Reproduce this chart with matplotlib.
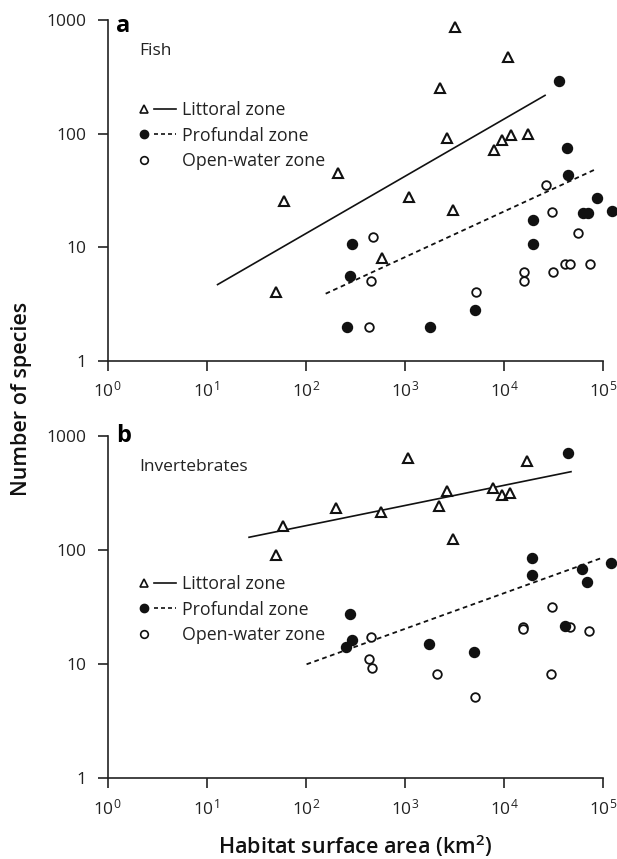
import numpy as np
import matplotlib
matplotlib.use('Agg')
import matplotlib.pyplot as plt
from matplotlib.lines import Line2D
from matplotlib.legend_handler import HandlerTuple

plt.rcParams['font.family'] = ['Open Sans', 'DejaVu Sans']
plt.rcParams['mathtext.fontset'] = 'custom'
plt.rcParams['mathtext.rm'] = 'Open Sans'
plt.rcParams['mathtext.it'] = 'Open Sans:italic'
plt.rcParams['mathtext.bf'] = 'Open Sans:bold'

# Panel a - fish
fish_lit_x = [50, 60, 210, 593, 1110, 2265, 2683, 3085, 3210, 7940, 9640, 11070, 11700, 17600]
fish_lit_y = [4.0, 25.5, 45, 8.1, 27.5, 250, 92, 21.3, 860, 71, 88, 470, 98, 100]
fish_pro_x = [263, 280, 291, 1800, 5110, 19500, 19500, 36200, 43000, 44700, 63300, 71100, 87700, 122000]
fish_pro_y = [2.0, 5.6, 10.6, 2.0, 2.8, 17.3, 10.6, 290, 75, 43, 20, 20, 27, 20.8]
fish_open_x = [438, 456, 474, 5190, 15950, 15950, 26400, 30800, 31500, 41400, 46400, 56300, 74000]
fish_open_y = [2.0, 5.0, 12.2, 4.0, 6.05, 5.03, 35, 20.5, 6.05, 7.07, 7.07, 13.2, 7.07]
fish_lit_fit_x = [12.9, 26000]
fish_lit_fit_y = [4.68, 217]
fish_pro_fit_x = [159, 86300]
fish_pro_fit_y = [3.89, 49]

# Panel b - invertebrates
inv_lit_x = [49.8, 58.6, 201, 575, 1085, 2213, 2650, 3090, 7820, 9500, 11530, 17000]
inv_lit_y = [90, 162, 231, 216, 634, 242, 328, 124, 346, 302, 313, 600]
inv_pro_x = [253, 280, 291, 1755, 4990, 19360, 19360, 41400, 44000, 61800, 69500, 120500]
inv_pro_y = [14.2, 27.3, 16.3, 15.0, 12.8, 85.5, 60.3, 21.7, 710, 67.6, 52.7, 77.3]
inv_open_x = [438, 453, 470, 2130, 5070, 15700, 15700, 30100, 30800, 46400, 72300]
inv_open_y = [11.0, 17.4, 9.2, 8.2, 5.1, 21.3, 20.3, 8.2, 31.8, 21.3, 19.5]
inv_lit_fit_x = [26.8, 47500]
inv_lit_fit_y = [129, 484]
inv_pro_fit_x = [102, 100700]
inv_pro_fit_y = [9.96, 86]

xticks = [1, 10, 100, 1000, 1e4, 1e5]
xticklabels = [r'$\mathregular{10^{%d}}$' % i for i in range(6)]
yticks = [1, 10, 100, 1000]
yticklabels = ['1', '10', '100', '1000']

W, H = 617, 859
fig = plt.figure(figsize=(W / 100, H / 100), dpi=100)

left = 107.5 / W
width = (W - 107.5) / W
xmax = 10 ** 5.141


def panel(rect, lx, ly, px, py, ox, oy, lfx, lfy, pfx, pfy, letter, title, leg_y, let_y):
    ax = fig.add_axes(rect)
    ax.set_xscale('log')
    ax.set_yscale('log')
    ax.set_xlim(1, xmax)
    ax.set_ylim(1, 1000)

    ax.plot(lfx, lfy, color='#111111', lw=1.2)
    ax.plot(pfx, pfy, color='#111111', lw=1.3, linestyle=(0, (2.6, 2.0)))
    ax.plot(ox, oy, 'o', ms=6.2, mfc='white', mec='#111111', mew=1.3, ls='none', clip_on=False)
    ax.plot(px, py, 'o', ms=7.2, mfc='#111111', mec='#111111', ls='none', clip_on=False)
    ax.plot(lx, ly, '^', ms=6.6, mfc='white', mec='#111111', mew=1.5, ls='none', clip_on=False)

    for s in ['top', 'right']:
        ax.spines[s].set_visible(False)
    for s in ['left', 'bottom']:
        ax.spines[s].set_linewidth(1.2)
        ax.spines[s].set_color('#222222')
    ax.spines['bottom'].set_bounds(1, 1e5)

    ax.set_xticks(xticks)
    ax.set_xticklabels(xticklabels)
    ax.set_yticks(yticks)
    ax.set_yticklabels(yticklabels)
    ax.minorticks_off()
    ax.tick_params(direction='out', length=7.5, width=1.2, color='#222222',
                   labelsize=12.5, labelcolor='#222222')
    ax.tick_params(axis='y', pad=8)
    ax.tick_params(axis='x', pad=7)

    ax.text(0.0167, let_y, letter, transform=ax.transAxes, fontsize=17,
            fontweight='bold', va='baseline', ha='left')
    ax.text(0.062, 0.909, title, transform=ax.transAxes, fontsize=12.5,
            va='center', ha='left', color='#222222')

    h_lit = (Line2D([], [], marker='^', ms=5.5, mfc='white', mec='#111111', mew=1.2, ls='none'),
             Line2D([], [], color='#111111', lw=1.2))
    h_pro = (Line2D([], [], marker='o', ms=6, mfc='#111111', mec='#111111', ls='none'),
             Line2D([], [], color='#111111', lw=1.2, linestyle=(0, (2.4, 1.8))))
    h_open = (Line2D([], [], marker='o', ms=5.5, mfc='white', mec='#111111', mew=1.2, ls='none'),
              Line2D([], [], color='none'))
    ax.legend([h_lit, h_pro, h_open], ['Littoral zone', 'Profundal zone', 'Open-water zone'],
              handler_map={tuple: HandlerTuple(ndivide=None, pad=0.0)},
              loc='upper left', bbox_to_anchor=(0.05, leg_y), frameon=False,
              fontsize=12.8, handlelength=2.4, handletextpad=0.35, labelspacing=0.42,
              borderpad=0, borderaxespad=0, labelcolor='#222222')
    return ax


bot_a = (H - 360.7) / H
top_a = (H - 20) / H
bot_b = (H - 778.3) / H
top_b = (H - 435.7) / H

panel([left, bot_a, width, top_a - bot_a], fish_lit_x, fish_lit_y, fish_pro_x, fish_pro_y,
      fish_open_x, fish_open_y, fish_lit_fit_x, fish_lit_fit_y, fish_pro_fit_x, fish_pro_fit_y,
      'a', 'Fish', 0.762, 0.966)
panel([left, bot_b, width, top_b - bot_b], inv_lit_x, inv_lit_y, inv_pro_x, inv_pro_y,
      inv_open_x, inv_open_y, inv_lit_fit_x, inv_lit_fit_y, inv_pro_fit_x, inv_pro_fit_y,
      'b', 'Invertebrates', 0.593, 0.9825)

fig.text(22 / W, 1 - 399 / H, 'Number of species', rotation=90, ha='center', va='center',
         fontsize=15.5, fontweight='semibold', color='#111111')
fig.text(355 / W, 1 - 846 / H, 'Habitat surface area (km$\\mathregular{^2}$)', ha='center',
         va='center', fontsize=15.5, fontweight='semibold', color='#111111')

fig.savefig('out.png', dpi=100)
